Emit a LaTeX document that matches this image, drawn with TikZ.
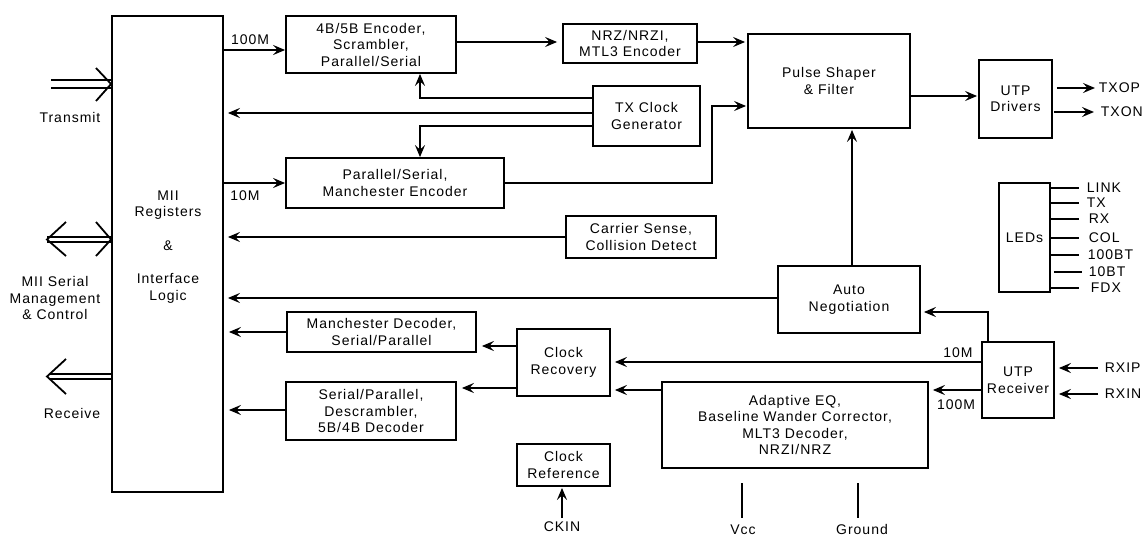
\documentclass[tikz,border=0pt]{standalone}
\usepackage{fontspec}
\setmainfont{Liberation Sans}[LetterSpace=7]
\usetikzlibrary{arrows.meta,calc}
\newcommand\dfont{\fontsize{14}{16.5}\selectfont}
\begin{document}
\begin{tikzpicture}[x=1pt,y=-1pt,line width=1.8pt,font=\dfont,
  box/.style={draw,inner sep=0pt,align=center},
  arr/.style={-{Stealth[length=12pt,width=10pt,inset=4.5pt]}},
  lbl/.style={inner sep=0pt,align=center},
  pin/.style={inner ysep=0pt,anchor=west}]
\useasboundingbox (0,0) rectangle (1146,535);
% boxes
\node[box,minimum width=111pt,minimum height=476pt] (mii) at (167.5,254) {};
\node[lbl] (miitxt) at (168,247) {MII\\Registers\\[17pt]\&\\[17pt]Interface\\Logic};
\node[box,minimum width=170pt,minimum height=57pt] (enc4b) at (371,44.5) {4B/5B Encoder,\\Scrambler,\\Parallel/Serial};
\node[box,minimum width=134pt,minimum height=39pt] (nrz) at (630,43.5) {NRZ/NRZI,\\MTL3 Encoder};
\node[box,minimum width=162pt,minimum height=94pt] (pulse) at (829,81) {Pulse Shaper\\\& Filter};
\node[box,minimum width=73pt,minimum height=78pt] (utpd) at (1015.5,99) {UTP\\Drivers};
\node[box,minimum width=107pt,minimum height=60pt] (txclk) at (646.5,116) {TX Clock\\Generator};
\node[box,minimum width=218pt,minimum height=50pt] (psme) at (395,183) {Parallel/Serial,\\Manchester Encoder};
\node[box,minimum width=150pt,minimum height=42pt] (cs) at (641,237) {Carrier Sense,\\Collision Detect};
\node[box,minimum width=142pt,minimum height=67pt] (auto) at (849,299.5) {Auto\\Negotiation};
\node[box,minimum width=189pt,minimum height=40pt] (md) at (381.5,332) {Manchester Decoder,\\Serial/Parallel};
\node[box,minimum width=170pt,minimum height=58pt] (sp) at (371,411) {Serial/Parallel,\\Descrambler,\\5B/4B Decoder};
\node[box,minimum width=93pt,minimum height=67pt] (cr) at (563.5,362.5) {Clock\\Recovery};
\node[box,minimum width=266pt,minimum height=86pt] (aeq) at (795,425) {Adaptive EQ,\\Baseline Wander Corrector,\\MLT3 Decoder,\\NRZI/NRZ};
\node[box,minimum width=72pt,minimum height=76pt] (utpr) at (1018,380) {UTP\\Receiver};
\node[box,minimum width=93pt,minimum height=42pt] (cref) at (563.5,465) {Clock\\Reference};
\node[box,minimum width=51pt,minimum height=109pt] (leds) at (1024.5,237.5) {LEDs};
% left side interface arrows
\node[lbl] (txl) at (70,117) {Transmit};
\node[lbl] (mgl) at (55,298) {MII Serial\\Management\\\& Control};
\node[lbl] (rxl) at (72,413) {Receive};
\draw (51,80) -- (mii.west |- 0,80);
\draw (51,88) -- (mii.west |- 0,88);
\draw (96,68) -- (mii.west |- 0,84) -- (96,101);
\draw (47,237) -- (mii.west |- 0,237);
\draw (47,242) -- (mii.west |- 0,242);
\draw (66,222) -- (47,239.5) -- (66,256);
\draw (96,222) -- (mii.west |- 0,239.5) -- (96,256);
\draw (mii.west |- 0,374) -- (49,374);
\draw (mii.west |- 0,379) -- (49,379);
\draw (66,359) -- (47,376.5) -- (66,394);
% labels
\node[lbl] (l100a) at (250,40) {100M};
\node[lbl] (l10a) at (245,196) {10M};
\node[lbl] (l10b) at (958,353) {10M};
\node[lbl] (l100b) at (956,405) {100M};
% transmit path
\draw[arr] (mii.east |- 0,50) -- (enc4b.west |- 0,50);
\draw[arr,shorten >=5pt] (enc4b.east |- 0,42) -- (nrz.west |- 0,42);
\draw[arr,shorten >=2pt] (nrz.east |- 0,42) -- (pulse.west |- 0,42);
\draw[arr] (txclk.west |- 0,98) -| (420,0 |- enc4b.south);
\draw[arr,shorten >=4pt] (txclk.west |- 0,113) -- (mii.east |- 0,113);
\draw[arr] (txclk.west |- 0,126) -| (420,0 |- psme.north);
\draw[arr] (mii.east |- 0,183) -- (psme.west |- 0,183);
\draw[arr,shorten >=1pt] (psme.east) -| (712,106) -- (pulse.west |- 0,106);
\draw[arr,shorten >=1pt] (pulse.east |- 0,96) -- (utpd.west |- 0,96);
\node[pin,inner xsep=3pt] (txop) at (1095,88) {TXOP};
\node[pin,inner xsep=6pt] (txon) at (1094,112) {TXON};
\draw[arr] ([xshift=4pt]utpd.east |- txop.west) -- (txop.west);
\draw[arr] ([xshift=1pt]utpd.east |- txon.west) -- (txon.west);
% MII inputs
\draw[arr,shorten >=4pt] (cs.west) -- (mii.east |- cs.west);
\draw[arr,shorten >=4pt] (auto.west |- 0,298) -- (mii.east |- 0,298);
\draw[arr,shorten >=5pt] (md.west) -- (mii.east |- md.west);
\draw[arr,shorten >=5pt] (sp.west |- 0,410) -- (mii.east |- 0,410);
\draw[arr,shorten >=1pt] (852,0 |- auto.north) -- (852,0 |- pulse.south);
% receive path
\draw[arr,shorten >=5pt] (cr.west |- 0,346) -- (md.east |- 0,346);
\draw[arr,shorten >=5pt] (cr.west |- 0,388) -- (sp.east |- 0,388);
\draw[arr,shorten >=4pt] (utpr.west |- 0,362) -- (cr.east |- 0,362);
\draw[arr,shorten >=4pt] (aeq.west |- 0,390) -- (cr.east |- 0,390);
\draw[arr,shorten >=4pt] (utpr.west |- 0,390) -- (aeq.east |- 0,390);
\draw[arr,shorten >=3pt] (988,0 |- utpr.north) |- (auto.east |- 0,312);
\node[pin,inner xsep=6pt] (rxip) at (1098,368) {RXIP};
\node[pin,inner xsep=6pt] (rxin) at (1098,394) {RXIN};
\draw[arr,shorten >=4pt] (rxip.west) -- (utpr.east |- rxip.west);
\draw[arr,shorten >=4pt] (rxin.west) -- (utpr.east |- rxin.west);
% clock reference
\node[lbl,anchor=north,inner ysep=3pt] (ckin) at (562,518) {CKIN};
\draw[arr,shorten >=1pt] (ckin.north) -- (ckin.north |- cref.south);
% power
\coordinate (vcct) at (742,483);
\coordinate (gndt) at (858,483);
\draw (vcct) -- ++(0,35);
\draw (gndt) -- ++(0,35);
\node[lbl,anchor=base] (vccl) at (743,534) {Vcc};
\node[lbl,anchor=base] (gndl) at (862,534) {Ground};
% LEDs
\node[pin,inner xsep=4pt] (link) at (1082,188) {LINK};
\node[pin,inner xsep=4pt] (ltx) at (1082,203) {TX};
\node[pin,inner xsep=6pt] (lrx) at (1082,219) {RX};
\node[pin,inner xsep=6pt] (lcol) at (1082,238) {COL};
\node[pin,inner xsep=5pt] (l100) at (1082,255) {100BT};
\node[pin,inner xsep=6pt] (l10) at (1082,272) {10BT};
\node[pin,inner xsep=8pt] (lfdx) at (1082,288) {FDX};
\foreach \n in {link,ltx,lrx,lcol,l100,lfdx}
  \draw (leds.east |- \n.west) -- ([xshift=-\pgfkeysvalueof{/pgf/inner xsep}]\n.west);
\draw ([xshift=3pt]leds.east |- l10.west) -- (1082,0 |- l10.west);
\end{tikzpicture}
\end{document}
